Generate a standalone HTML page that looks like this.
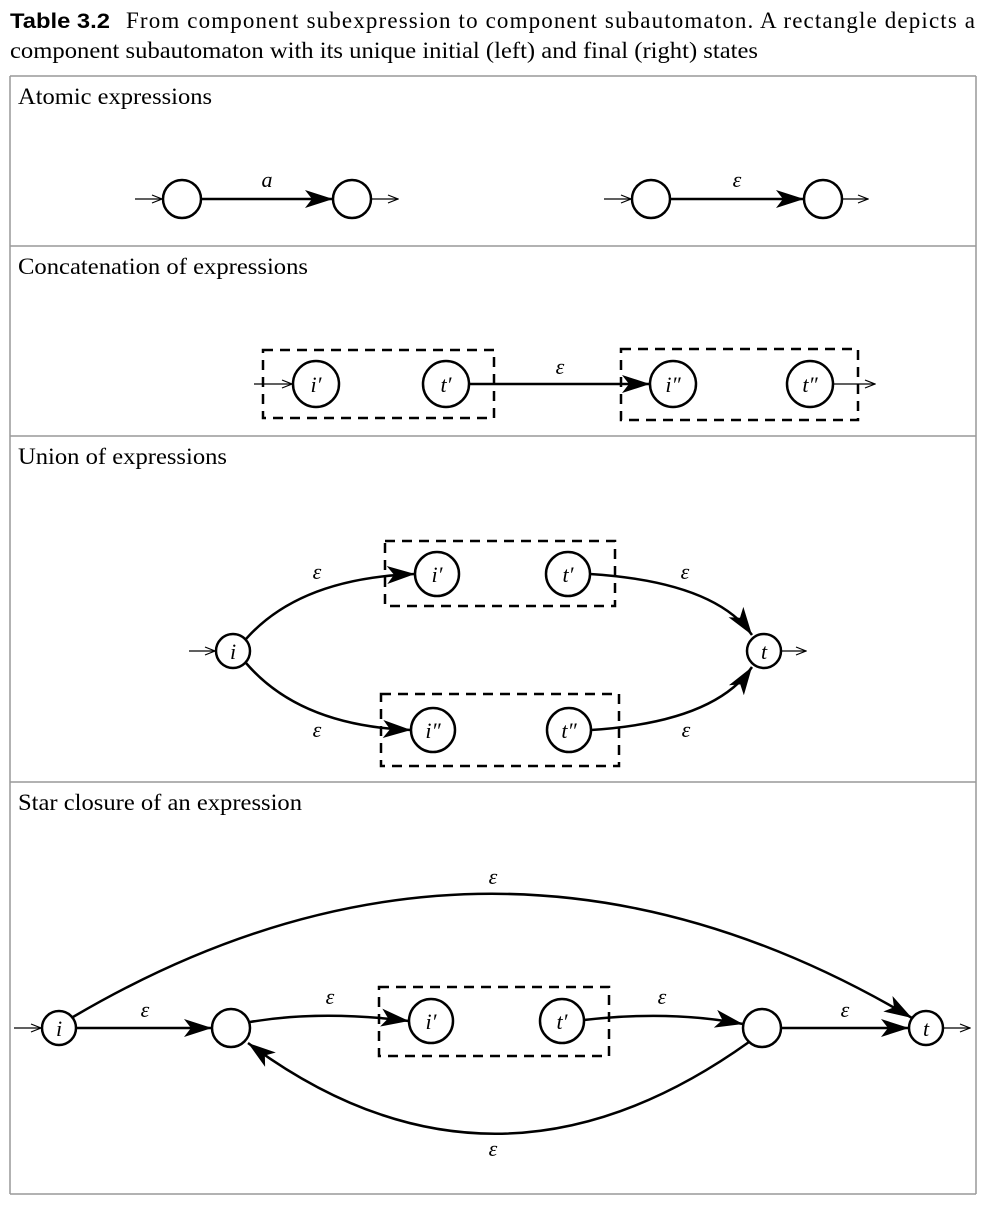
<!DOCTYPE html>
<html><head><meta charset="utf-8"><style>
html,body{margin:0;padding:0;background:#fff;}
svg{display:block;}
.t{font-family:"Liberation Serif",serif;font-size:23px;fill:#000;}
.m{font-family:"Liberation Serif",serif;font-style:italic;font-size:22px;fill:#000;}
</style></head><body>
<svg width="986" height="1206" viewBox="0 0 986 1206" xmlns="http://www.w3.org/2000/svg">
<defs>
<marker id="a" markerWidth="30" markerHeight="20" refX="28" refY="10" orient="auto" markerUnits="userSpaceOnUse">
<path d="M0,1 L28,10 L0,19 L7,10 Z" fill="#000"/>
</marker>
<marker id="s" markerWidth="12" markerHeight="10" refX="11" refY="5" orient="auto" markerUnits="userSpaceOnUse">
<path d="M1,1 L11,5 L1,9" fill="none" stroke="#000" stroke-width="1.2"/>
</marker>
</defs>
<text x="10" y="28" textLength="100" lengthAdjust="spacingAndGlyphs" style="font-family:'Liberation Sans',sans-serif;font-weight:bold;font-size:21px">Table 3.2</text>
<text class="t" x="126" y="28" textLength="849" lengthAdjust="spacing">From component subexpression to component subautomaton. A rectangle depicts a</text>
<text class="t" x="10" y="58" textLength="748" lengthAdjust="spacingAndGlyphs">component subautomaton with its unique initial (left) and final (right) states</text>
<g stroke="#999" stroke-width="1.5">
<line x1="10" y1="76" x2="976" y2="76"/><line x1="10" y1="246" x2="976" y2="246"/>
<line x1="10" y1="436" x2="976" y2="436"/><line x1="10" y1="782" x2="976" y2="782"/>
<line x1="10" y1="1194" x2="976" y2="1194"/>
<line x1="10" y1="76" x2="10" y2="1194"/><line x1="976" y1="76" x2="976" y2="1194"/>
</g>
<text class="t" x="18" y="104" textLength="194" lengthAdjust="spacingAndGlyphs">Atomic expressions</text>
<text class="t" x="18" y="274" textLength="290" lengthAdjust="spacingAndGlyphs">Concatenation of expressions</text>
<text class="t" x="18" y="464" textLength="209" lengthAdjust="spacingAndGlyphs">Union of expressions</text>
<text class="t" x="18" y="810" textLength="284" lengthAdjust="spacingAndGlyphs">Star closure of an expression</text>
<g fill="none" stroke="#000" stroke-width="2.5">
<circle cx="182" cy="199" r="19"/><circle cx="352" cy="199" r="19"/>
<line x1="201" y1="199" x2="333" y2="199" marker-end="url(#a)"/>
<circle cx="651" cy="199" r="19"/><circle cx="823" cy="199" r="19"/>
<line x1="670" y1="199" x2="804" y2="199" marker-end="url(#a)"/>
<rect x="263" y="350" width="231" height="68" stroke-dasharray="10,7"/>
<rect x="621" y="349" width="237" height="71" stroke-dasharray="10,7"/>
<circle cx="316" cy="384" r="23"/><circle cx="446" cy="384" r="23"/>
<circle cx="673" cy="384" r="23"/><circle cx="810" cy="384" r="23"/>
<line x1="469" y1="384" x2="650" y2="384" marker-end="url(#a)"/>
<circle cx="233" cy="651" r="17"/><circle cx="764" cy="651" r="17"/>
<rect x="385" y="541" width="230" height="65" stroke-dasharray="10,7"/>
<rect x="381" y="694" width="238" height="72" stroke-dasharray="10,7"/>
<circle cx="437" cy="574" r="22"/><circle cx="568" cy="574" r="22"/>
<circle cx="433" cy="730" r="22"/><circle cx="569" cy="730" r="22"/>
<path d="M246,639 Q300,578 415,574" marker-end="url(#a)"/>
<path d="M590,574 Q715,582 752,635" marker-end="url(#a)"/>
<path d="M246,663 Q300,726 411,730" marker-end="url(#a)"/>
<path d="M591,730 Q715,722 752,667" marker-end="url(#a)"/>
<circle cx="59" cy="1028" r="17"/><circle cx="231" cy="1028" r="19"/>
<circle cx="762" cy="1028" r="19"/><circle cx="926" cy="1028" r="17"/>
<rect x="379" y="987" width="230" height="69" stroke-dasharray="10,7"/>
<circle cx="431" cy="1021" r="22"/><circle cx="562" cy="1021" r="22"/>
<line x1="76" y1="1028" x2="212" y2="1028" marker-end="url(#a)"/>
<line x1="781" y1="1028" x2="909" y2="1028" marker-end="url(#a)"/>
<path d="M250,1022 Q320,1010 409,1021" marker-end="url(#a)"/>
<path d="M584,1020 Q670,1010 743,1024" marker-end="url(#a)"/>
<path d="M73,1017 Q493,770 912,1018" marker-end="url(#a)"/>
<path d="M749,1042 Q493,1225 248,1043" marker-end="url(#a)"/>
</g>
<g stroke="#000" stroke-width="1.2" fill="none">
<line x1="135" y1="199" x2="162" y2="199" marker-end="url(#s)"/>
<line x1="371" y1="199" x2="398" y2="199" marker-end="url(#s)"/>
<line x1="604" y1="199" x2="631" y2="199" marker-end="url(#s)"/>
<line x1="842" y1="199" x2="868" y2="199" marker-end="url(#s)"/>
<line x1="254" y1="384" x2="292" y2="384" marker-end="url(#s)"/>
<line x1="833" y1="384" x2="875" y2="384" marker-end="url(#s)"/>
<line x1="189" y1="651" x2="215" y2="651" marker-end="url(#s)"/>
<line x1="781" y1="651" x2="806" y2="651" marker-end="url(#s)"/>
<line x1="14" y1="1028" x2="41" y2="1028" marker-end="url(#s)"/>
<line x1="943" y1="1028" x2="970" y2="1028" marker-end="url(#s)"/>
</g>
<g text-anchor="middle">
<text class="m" x="267" y="187">a</text>
<text class="m" x="737" y="187">ε</text>
<text class="m" x="560" y="374">ε</text>
<text class="m" x="316" y="392">i′</text><text class="m" x="446" y="392">t′</text>
<text class="m" x="673" y="392">i″</text><text class="m" x="810" y="392">t″</text>
<text class="m" x="317" y="579">ε</text><text class="m" x="685" y="579">ε</text>
<text class="m" x="317" y="737">ε</text><text class="m" x="686" y="737">ε</text>
<text class="m" x="233" y="659">i</text><text class="m" x="764" y="659">t</text>
<text class="m" x="437" y="582">i′</text><text class="m" x="568" y="582">t′</text>
<text class="m" x="433" y="738">i″</text><text class="m" x="569" y="738">t″</text>
<text class="m" x="59" y="1036">i</text><text class="m" x="926" y="1036">t</text>
<text class="m" x="431" y="1029">i′</text><text class="m" x="562" y="1029">t′</text>
<text class="m" x="145" y="1017">ε</text><text class="m" x="845" y="1017">ε</text>
<text class="m" x="330" y="1004">ε</text><text class="m" x="662" y="1004">ε</text>
<text class="m" x="493" y="884">ε</text><text class="m" x="493" y="1156">ε</text>
</g>
</svg>
</body></html>
